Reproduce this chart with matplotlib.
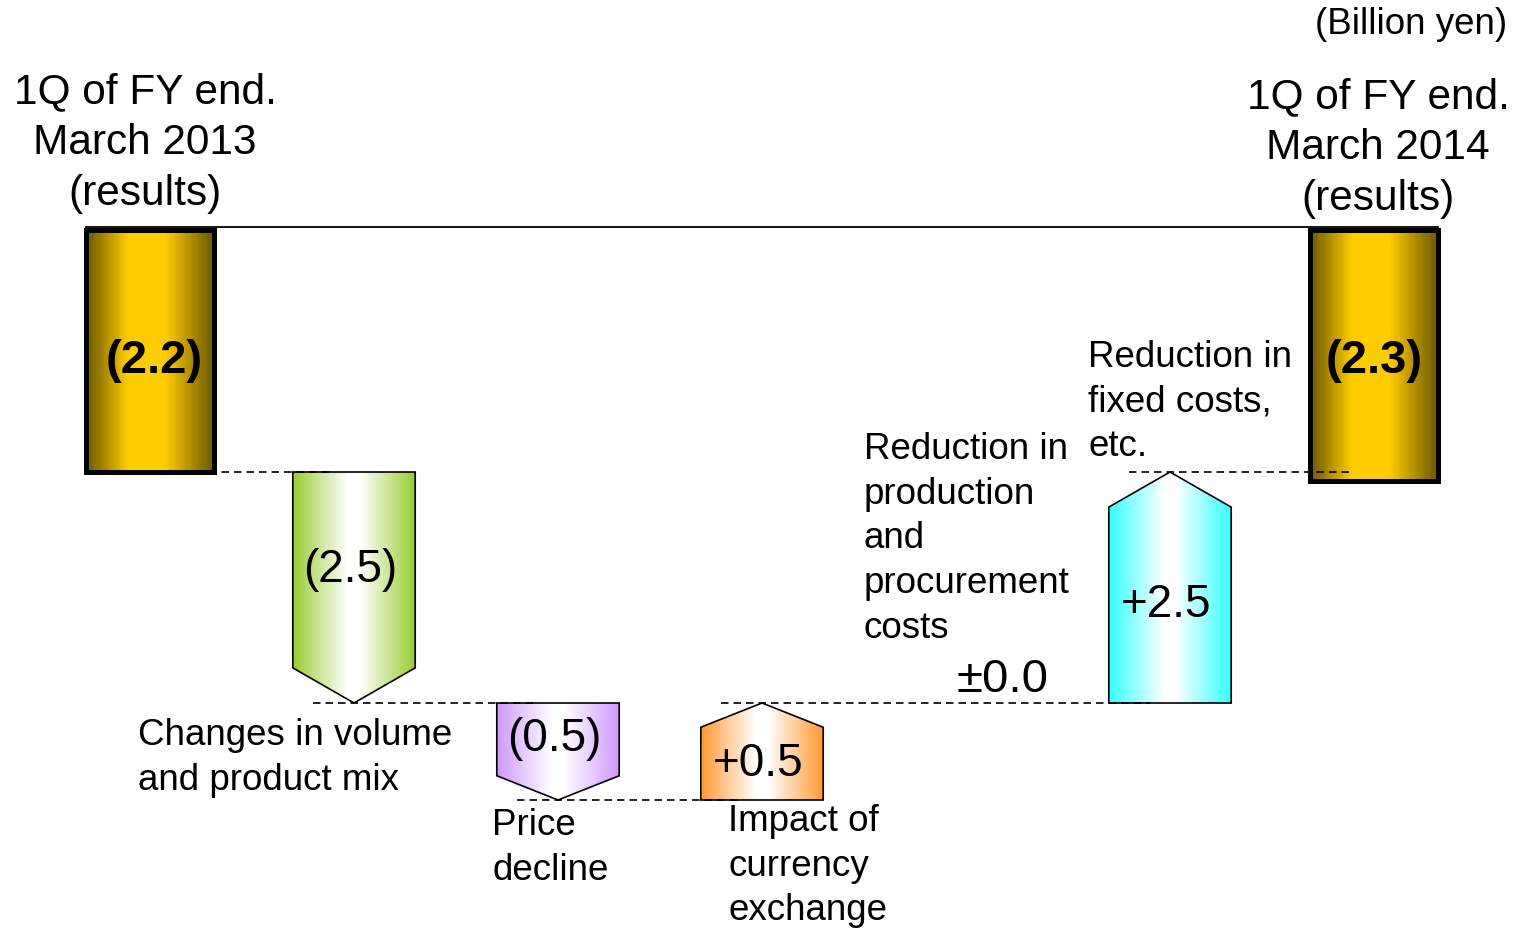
import matplotlib
matplotlib.use("Agg")
import matplotlib.pyplot as plt
import numpy as np
from matplotlib.patches import Polygon
from matplotlib.colors import LinearSegmentedColormap

plt.rcParams['font.family'] = ['Liberation Sans', 'DejaVu Sans']

# ---------------- data ----------------
start_label = "1Q of FY end.\nMarch 2013\n(results)"
end_label = "1Q of FY end.\nMarch 2014\n(results)"
start_value = -2.2
end_value = -2.3
step_names = ["Changes in volume\nand product mix", "Price\ndecline",
              "Impact of\ncurrency\nexchange",
              "Reduction in\nproduction\nand\nprocurement\ncosts",
              "Reduction in\nfixed costs,\netc."]
step_values = [-2.5, -0.5, 0.5, 0.0, 2.5]
step_texts = ["(2.5)", "(0.5)", "+0.5", "\u00b10.0", "+2.5"]
start_text = "(2.2)"
end_text = "(2.3)"
step_colors = ["#99CC33", "#CC99FF", "#FF9933", None, "#33FFFF"]
unit_text = "(Billion yen)"

# ---------------- layout ----------------
W, H = 1515, 930
fig = plt.figure(figsize=(W / 100, H / 100), dpi=100)
ax = fig.add_axes([0, 0, 1, 1])
ax.axis('off')

# schematic (non-proportional) vertical scale, as in the original slide
bp_v = np.array([-9.0, -5.2, -4.7, -2.2, 0.0, 3.0])
bp_u = -np.array([800 + 3.8 * 106, 800, 703, 472, 227, 227 - 3 * 111])


def fwd(v):
    return np.interp(v, bp_v, bp_u)


def inv(u):
    return np.interp(u, bp_u, bp_v)


ax.set_yscale('function', functions=(fwd, inv))

STEP_PX, X0_PX = 204.0, 150.0
xlim = (-X0_PX / STEP_PX, (W - X0_PX) / STEP_PX)
ylim = (float(inv(-H)), float(inv(0.0)))


def fx(px):
    return px / W


def fy(py):
    return 1 - py / H


def gradient_fill(poly_xy, color_stops, lw, zorder=2):
    poly = Polygon(poly_xy, closed=True, facecolor='none', edgecolor='black',
                   linewidth=lw, joinstyle='miter', zorder=zorder + 1)
    ax.add_patch(poly)
    xs = [p[0] for p in poly_xy]
    ys = [p[1] for p in poly_xy]
    cmap = LinearSegmentedColormap.from_list("g", color_stops)
    x0, x1 = min(xs), max(xs)
    nstrip = 120
    edges = np.linspace(x0, x1, nstrip + 1)
    for j in range(nstrip):
        c = cmap((j + 0.5) / nstrip)
        r = ax.fill_between([edges[j], edges[j + 1] + (x1 - x0) / nstrip * 0.3],
                            min(ys), max(ys), color=c, lw=0, zorder=zorder)
        r.set_clip_path(poly)


gold_stops = [(0.0, "#6a5600"), (0.33, "#FFCC00"), (0.62, "#FFCC00"), (1.0, "#6a5600")]
BAR_W = 0.6
GOLD_W = 0.63

n = len(step_values)
x_start = 0
x_end = n + 1


def rect(xc, w, a, b):
    return [(xc - w / 2, a), (xc + w / 2, a), (xc + w / 2, b), (xc - w / 2, b)]


TOP_GAP = -0.025
gradient_fill(rect(x_start, GOLD_W, TOP_GAP, start_value), gold_stops, lw=3.6)
gradient_fill(rect(x_end, GOLD_W, TOP_GAP, end_value), gold_stops, lw=3.6)
ax.text(x_start + 0.02, start_value / 2 - 0.1, start_text, ha='center', va='center',
        fontsize=34, fontweight='bold', zorder=5)
ax.text(x_end, start_value / 2 - 0.1, end_text, ha='center', va='center',
        fontsize=34, fontweight='bold', zorder=5)

# top line
ax.plot([x_start - GOLD_W / 2, x_end + GOLD_W / 2], [0, 0], color='black', lw=1.3, zorder=4)

DASH = dict(color='black', lw=1.2, ls=(0, (4.5, 3)), zorder=6)
level = start_value
prev_x = x_start
for i, (v, txt, col) in enumerate(zip(step_values, step_texts, step_colors)):
    xc = i + 1
    new_level = level + v
    if col is not None:
        stops = [(0.0, col), (0.45, "#FFFFFF"), (0.55, "#FFFFFF"), (1.0, col)]
        p = min(0.38, 0.25 * abs(v))
        xl, xr = xc - BAR_W / 2, xc + BAR_W / 2
        if v < 0:
            pts = [(xl, level), (xr, level), (xr, new_level + p), (xc, new_level), (xl, new_level + p)]
            label_y = (level + new_level + p) / 2
        else:
            pts = [(xl, level), (xr, level), (xr, new_level - p), (xc, new_level), (xl, new_level - p)]
            label_y = (level + new_level - p) / 2
        gradient_fill(pts, stops, lw=1.2)
        ax.plot([prev_x - 0.2, xc - BAR_W / 2 + 0.2], [level, level], **DASH)
        prev_x = xc
        ax.text(xc - 0.02, label_y, txt, ha='center', va='center', fontsize=33, zorder=7)
    else:
        ax.text(xc + 0.18, level + 0.25, txt, ha='center', va='center', fontsize=34, zorder=7)
    level = new_level

ax.plot([prev_x - 0.2, x_end - GOLD_W / 2 + 0.2], [level, level], **DASH)

ax.set_xlim(*xlim)
ax.set_ylim(*ylim)

fig.text(fx(145), fy(143), start_label, ha='center', va='center', fontsize=30.5, linespacing=1.36)
fig.text(fx(1378), fy(148), end_label, ha='center', va='center', fontsize=30.5, linespacing=1.36)
fig.text(fx(1507), fy(25), unit_text, ha='right', va='center', fontsize=26.5)

label_pos = [(138, 718), (492, 808), (728, 804), (864, 432), (1088, 340)]
for name, (px, py) in zip(step_names, label_pos):
    fig.text(fx(px), fy(py), name, ha='left', va='top', fontsize=26.5, linespacing=1.36)

fig.savefig("out.png", dpi=100)
